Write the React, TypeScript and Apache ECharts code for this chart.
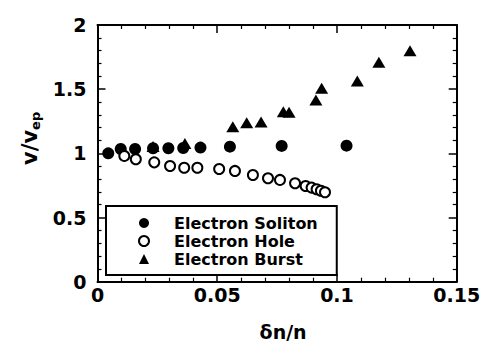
import React, { useEffect, useRef } from "react";
import * as echarts from "echarts";

const solitonX = [0.0045, 0.0097, 0.0157, 0.0232, 0.0296, 0.0358, 0.043, 0.0553, 0.0769, 0.104];
const solitonY = [1.0, 1.034, 1.034, 1.04, 1.04, 1.042, 1.045, 1.052, 1.058, 1.06];

const holeX = [0.0112, 0.016, 0.0237, 0.0303, 0.0362, 0.0417, 0.0508, 0.0574, 0.0649, 0.0712, 0.0762, 0.0825, 0.0869, 0.0894, 0.0915, 0.0933, 0.095];
const holeY = [0.98, 0.954, 0.93, 0.901, 0.888, 0.888, 0.878, 0.863, 0.831, 0.806, 0.793, 0.767, 0.746, 0.733, 0.72, 0.709, 0.697];

const burstX = [0.0232, 0.0365, 0.0565, 0.0623, 0.0683, 0.0776, 0.08, 0.0912, 0.0936, 0.1085, 0.1175, 0.1305];
const burstY = [1.054, 1.077, 1.208, 1.239, 1.245, 1.325, 1.32, 1.416, 1.507, 1.564, 1.71, 1.8];

const seriesNames = ["Electron Soliton", "Electron Hole", "Electron Burst"];
const xTicks = { min: 0, max: 0.15, interval: 0.05 };
const yTicks = { min: 0, max: 2, interval: 0.5 };

const FONT = "DejaVu Sans";

const pairs = (xs: number[], ys: number[]) => xs.map((x, i) => [x, ys[i]]);

export default function App() {
  const ref = useRef<HTMLDivElement>(null);
  useEffect(() => {
    if (!ref.current) return;
    const chart = echarts.init(ref.current, null, { renderer: "svg" });
    const fmt = (v: number) => String(+v.toFixed(2));
    const axisCommon = {
      axisLine: { show: true, onZero: false, lineStyle: { color: "#000", width: 2 } },
      axisTick: { show: true, inside: true, length: 8, lineStyle: { color: "#000", width: 1.5 } },
      minorTick: { show: true, splitNumber: 5, length: 4, lineStyle: { color: "#000", width: 1.2 } },
      splitLine: { show: false },
      minorSplitLine: { show: false },
    };
    const labelStyle = { color: "#000", fontFamily: FONT, fontWeight: "bold", fontSize: 19 };
    chart.setOption({
      animation: false,
      backgroundColor: "#fff",
      grid: { left: 97.5, right: 29.3, top: 25, bottom: 60.3, containLabel: false, outerBoundsMode: "none" },
      xAxis: [
        {
          type: "value", position: "bottom", ...xTicks, ...axisCommon,
          axisLabel: { ...labelStyle, margin: 4, formatter: fmt },
          name: "δn/n", nameLocation: "middle", nameGap: 41,
          nameTextStyle: { color: "#000", fontFamily: FONT, fontWeight: "bold", fontSize: 19, lineHeight: 19, padding: [0, 0, 0, 12] },
        },
        { type: "value", position: "top", ...xTicks, ...axisCommon, axisLabel: { show: false } },
      ],
      yAxis: [
        {
          type: "value", position: "left", ...yTicks, ...axisCommon,
          axisLabel: { ...labelStyle, margin: 11, formatter: fmt },
          name: "{a|v/v}{b|ep}", nameLocation: "middle", nameGap: 42, nameRotate: 90,
          nameTextStyle: {
            padding: [0, 0, 0, 30],
            rich: {
              a: { color: "#000", fontFamily: FONT, fontWeight: "bold", fontSize: 21 },
              b: { color: "#000", fontFamily: FONT, fontWeight: "bold", fontSize: 13, padding: [10, 0, 0, 0] },
            },
          },
        },
        { type: "value", position: "right", ...yTicks, ...axisCommon, axisLabel: { show: false } },
      ],
      legend: {
        show: true,
        data: seriesNames,
        orient: "vertical",
        left: 106,
        top: 206,
        itemWidth: 10,
        itemHeight: 10,
        itemGap: 0,
        padding: [8, 19, 7, 32],
        backgroundColor: "#fff",
        borderColor: "#000",
        borderWidth: 2,
        borderRadius: 0,
        selectedMode: false,
        textStyle: { color: "#000", fontFamily: FONT, fontWeight: "bold", fontSize: 16, lineHeight: 18, padding: [0, 0, 0, 20] },
      },
      series: [
        {
          name: seriesNames[0], type: "scatter", xAxisIndex: 0, yAxisIndex: 0,
          symbol: "circle", symbolSize: 12,
          itemStyle: { color: "#000", opacity: 1 },
          data: pairs(solitonX, solitonY), z: 3,
        },
        {
          name: seriesNames[1], type: "scatter", xAxisIndex: 0, yAxisIndex: 0,
          symbol: "circle", symbolSize: 10,
          itemStyle: { color: "#fff", borderColor: "#000", borderWidth: 2, opacity: 1 },
          data: pairs(holeX, holeY), z: 3,
        },
        {
          name: seriesNames[2], type: "scatter", xAxisIndex: 0, yAxisIndex: 0,
          symbol: "triangle", symbolSize: [13, 11],
          itemStyle: { color: "#000", opacity: 1 },
          data: pairs(burstX, burstY), z: 2,
        },
      ],
    });
    return () => chart.dispose();
  }, []);
  return <div ref={ref} style={{ position: "absolute", left: 0, top: 0, width: 486, height: 342 }} />;
}
